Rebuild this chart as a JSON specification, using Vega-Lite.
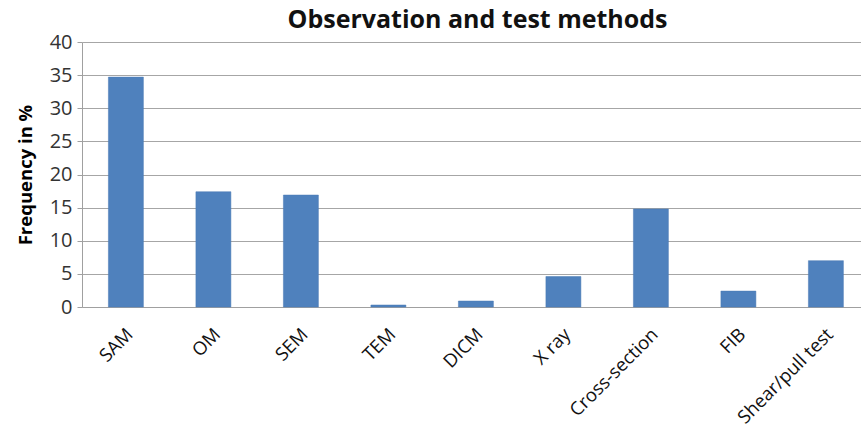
{
  "$schema": "https://vega.github.io/schema/vega-lite/v6.json",
  "autosize": "none",
  "width": 779,
  "height": 265,
  "padding": {"left": 82, "top": 42, "right": 0, "bottom": 120},
  "background": "white",
  "title": {"text": "Observation and test methods", "font": "Open Sans", "fontSize": 25, "fontWeight": "bold", "color": "#111111", "anchor": "middle", "offset": -1, "dx": 6},
  "data": {"values": [
    {"method": "SAM", "freq": 34.7},
    {"method": "OM", "freq": 17.4},
    {"method": "SEM", "freq": 16.9},
    {"method": "TEM", "freq": 0.3},
    {"method": "DICM", "freq": 0.9},
    {"method": "X ray", "freq": 4.6},
    {"method": "Cross-section", "freq": 14.8},
    {"method": "FIB", "freq": 2.4},
    {"method": "Shear/pull test", "freq": 7.0}
  ]},
  "mark": {"type": "bar", "color": "#4f81bd", "stroke": "#4a7ab5", "strokeWidth": 0.5},
  "encoding": {
    "x": {"field": "method", "type": "nominal", "sort": null,
      "scale": {"paddingInner": 0.6, "paddingOuter": 0.2514, "align": 0.6},
      "axis": {"title": null, "labelAngle": -45, "labelAlign": "right", "labelBaseline": "middle", "labelFont": "Open Sans", "labelFontSize": 18.5, "labelColor": "#111111", "ticks": false, "domainColor": "#a0a0a0", "labelPadding": 24, "labelOffset": 4}},
    "y": {"field": "freq", "type": "quantitative",
      "scale": {"domain": [0, 40], "nice": false},
      "axis": {"title": "Frequency in %", "titleFont": "Open Sans", "titleFontSize": 18.5, "titleFontWeight": "bold", "titleColor": "#000000", "titlePadding": 14, "values": [0,5,10,15,20,25,30,35,40], "labelFont": "Open Sans", "labelFontSize": 20, "labelColor": "#333333", "gridColor": "#a6a6a6", "domainColor": "#a0a0a0", "tickColor": "#a0a0a0", "tickSize": 5, "labelPadding": 5}}
  },
  "config": {"view": {"stroke": null}}
}
